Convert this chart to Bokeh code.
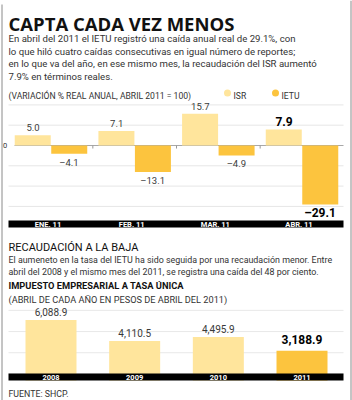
from bokeh.plotting import figure
from bokeh.models import Range1d, FactorRange, ColumnDataSource, CategoricalScale
from bokeh.transform import dodge
from bokeh.core.properties import value
from bokeh.embed import file_html
from bokeh.resources import INLINE

# ---------------- data ----------------
title = "CAPTA CADA VEZ MENOS"
intro = [
    "En abril del 2011 el IETU registró una caída anual real de 29.1%, con",
    "lo que hiló cuatro caídas consecutivas en igual número de reportes;",
    "en lo que va del año, en ese mismo mes, la recaudación del ISR aumentó",
    "7.9% en términos reales.",
]
subtitle1 = "(VARIACIÓN % REAL ANUAL, ABRIL 2011 = 100)"
series_names = ["ISR", "IETU"]
months = ["ENE. 11", "FEB. 11", "MAR. 11", "ABR. 11"]
isr = [5.0, 7.1, 15.7, 7.9]
ietu = [-4.1, -13.1, -4.9, -29.1]
grid1 = [20, 10, -10, -20, -30]

heading2 = "RECAUDACIÓN A LA BAJA"
para2 = [
    "El aumeneto en la tasa del IETU ha sido seguida por una recaudación menor. Entre",
    "abril del 2008 y el mismo mes del 2011, se registra una caída del 48 por ciento.",
]
subtitle2a = "IMPUESTO EMPRESARIAL A TASA ÚNICA"
subtitle2b = "(ABRIL DE CADA AÑO EN PESOS DE ABRIL DEL 2011)"
years = ["2008", "2009", "2010", "2011"]
ietu_amount = [6088.9, 4110.5, 4495.9, 3188.9]
grid2 = [1000, 3000, 5000, 7000]
source_note = "FUENTE: SHCP."

# ---------------- styles / layout ----------------
W, H = 352, 400
LIGHT = "#FFE59C"
DARK = "#FCC43E"
BODY = "Roboto"
TITLE_FONT = "Open Sans"
HEAD_FONT = "Roboto"
TXT = "#333333"

STEP = 83.67          # px between category centres
n_cat = len(months)
total_units = W / STEP
pad = (total_units - n_cat) / n_cat
X0 = -n_cat * pad / 2


def sx(px):
    """layout pixel -> synthetic x coordinate of the categorical range"""
    if isinstance(px, (list, tuple)):
        return [X0 + v / STEP for v in px]
    return X0 + px / STEP


# chart 1 vertical scale
ZERO1, K1 = 145.0, 2.03
# chart 2 vertical scale
ZERO2, K2 = 384.0, 0.01059

p = figure(width=W, height=H, x_range=FactorRange(factors=months, range_padding=pad),
           y_range=Range1d(H, 0),
           min_border=0, toolbar_location=None, output_backend="svg",
           x_axis_type=None, y_axis_type=None, outline_line_color=None)
p.grid.visible = False
p.background_fill_color = "white"
p.border_fill_color = "white"

p.extra_x_ranges = {"y": FactorRange(factors=years, range_padding=pad)}
p.extra_x_scales = {"y": CategoricalScale()}
p.extra_y_ranges = {
    "v1": Range1d(start=(ZERO1 - H) / K1, end=ZERO1 / K1),
    "v2": Range1d(start=(ZERO2 - H) / K2, end=ZERO2 / K2),
}


def txt(x, y, s, size, font=BODY, style="normal", color=TXT, align="left",
        baseline="alphabetic"):
    p.text(x=[sx(x)], y=[y], text=[s], text_font=value(font),
           text_font_size=f"{size}px", text_font_style=style,
           text_color=color, text_align=align, text_baseline=baseline)


# frame
p.segment(x0=sx([1.5, 350.5]), y0=[4, 0], x1=sx([1.5, 350.5]), y1=[H, H],
          line_color="#8a8a8a", line_width=1)

# header
txt(8, 23, title, 18.5, font=TITLE_FONT, style="bold", color="#111111")
for i, line in enumerate(intro):
    txt(8, 38 + 12.5 * i, line, 9.6)

txt(8, 95.5, subtitle1, 8.6)
p.scatter(x=[sx(227)], y=[92.5], size=7, color=LIGHT, line_color=None)
txt(233, 95.5, series_names[0], 8.6)
p.scatter(x=[sx(275)], y=[92.5], size=7, color=DARK, line_color=None)
txt(281, 95.5, series_names[1], 8.6)

# ---------------- chart 1 ----------------
p.segment(x0=sx(8), x1=sx(343), y0=grid1, y1=grid1, y_range_name="v1",
          line_color="#e6e6e6", line_width=1)
p.segment(x0=sx(14), x1=sx(343), y0=[0], y1=[0], y_range_name="v1",
          line_color="#a8a8a8", line_width=1)
txt(4.5, ZERO1, "0", 7.5, align="center", baseline="middle")

xm = p.x_range
hl = [m == months[-1] for m in months]


def fmt1(v):
    return f"{v:.1f}".replace("-", "–")


src1 = ColumnDataSource(dict(
    month=months, isr=isr, ietu=ietu,
    isr_lbl=[fmt1(v) for v in isr], ietu_lbl=[fmt1(v) for v in ietu],
    fstyle=["bold" if h else "normal" for h in hl],
    fsize=["12px" if h else "9.5px" for h in hl],
    fcolor=["#000000" if h else "#3a3a3a" for h in hl],
))
BW = 36 / STEP
p.segment(x0=dodge("month", 0.5, range=xm), x1=dodge("month", 0.5, range=xm),
          y0=0, y1=-1.5, source=ColumnDataSource(dict(month=months[:-1])),
          y_range_name="v1", line_color="#999999")
p.vbar(x=dodge("month", -BW / 2 - 0.003, range=xm), top="isr", bottom=0, width=BW,
       source=src1, y_range_name="v1", color=LIGHT, line_color=None)
p.vbar(x=dodge("month", BW / 2 + 0.003, range=xm), top="ietu", bottom=0, width=BW,
       source=src1, y_range_name="v1", color=DARK, line_color=None)
p.text(x=dodge("month", -BW / 2, range=xm), y="isr", text="isr_lbl", source=src1,
       y_range_name="v1", text_font=value(BODY),
       text_font_size="fsize", text_font_style="fstyle", text_color="fcolor",
       text_align="center", text_baseline="middle", y_offset=-7.5)
p.text(x=dodge("month", BW / 2, range=xm), y="ietu", text="ietu_lbl", source=src1,
       y_range_name="v1", text_font=value(BODY),
       text_font_size="fsize", text_font_style="fstyle", text_color="fcolor",
       text_align="center", text_baseline="middle", y_offset=8.5)

# band 1
p.quad(left=sx(8), right=sx(343), top=220, bottom=227, color="#000000", line_color=None)
p.text(x="month", y=223.8, text="month", source=src1,
       text_font=value(BODY), text_font_size="7.5px", text_font_style="bold",
       text_color="white", text_align="center", text_baseline="middle", x_offset=-3)

# ---------------- section 2 ----------------
txt(8, 247, heading2, 11, font=HEAD_FONT, color="#111111")
for i, line in enumerate(para2):
    txt(8, 259.5 + 11.8 * i, line, 8.9)
txt(8, 285, subtitle2a, 9.3, style="bold", color="#111111")
txt(8, 299, subtitle2b, 9.2)

# ---------------- chart 2 ----------------
hl2 = [y == years[-1] for y in years]
src2 = ColumnDataSource(dict(
    year=years, amount=ietu_amount,
    lbl=[f"{v:,.1f}" for v in ietu_amount],
    color=[DARK if h else LIGHT for h in hl2],
    fstyle=["bold" if h else "normal" for h in hl2],
    fsize=["12px" if h else "10px" for h in hl2],
    fcolor=["#000000" if h else "#3a3a3a" for h in hl2],
    off=[-11 if h else -8 for h in hl2],
))
p.segment(x0=sx(8), x1=sx(343), y0=grid2, y1=grid2, y_range_name="v2",
          line_color="#e8e8e8", line_width=1)
p.vbar(x="year", top="amount", bottom=0, width=51 / STEP, source=src2,
       x_range_name="y", y_range_name="v2", color="color", line_color=None)
p.text(x="year", y="amount", text="lbl", source=src2, x_range_name="y",
       y_range_name="v2", text_font=value(BODY), text_font_size="fsize",
       text_font_style="fstyle", text_color="fcolor", text_align="center",
       text_baseline="middle", y_offset="off")
# mask below band and band 2
p.quad(left=sx(8), right=sx(343), top=380, bottom=385, color="white", line_color=None)
p.quad(left=sx(8), right=sx(343), top=373, bottom=380, color="#000000", line_color=None)
p.text(x="year", y=376.8, text="year", source=src2, x_range_name="y",
       text_font=value(BODY), text_font_size="7.5px", text_font_style="bold",
       text_color="white", text_align="center", text_baseline="middle")

txt(8, 393, source_note, 8.8)

open("out.html", "w").write(file_html(p, INLINE))
